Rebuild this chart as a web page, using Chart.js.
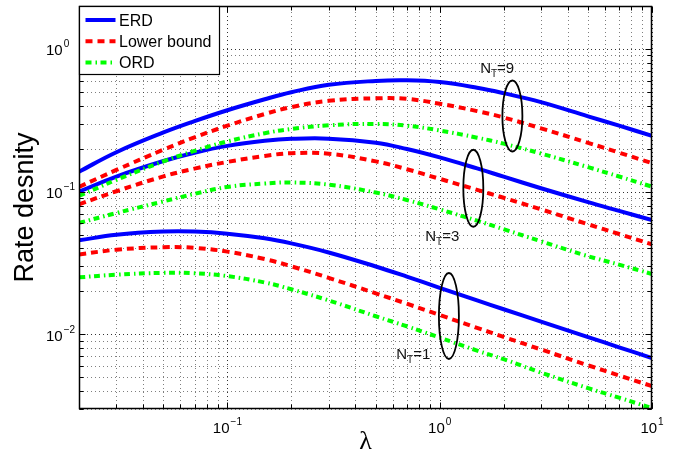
<!DOCTYPE html>
<html>
<head>
<meta charset="utf-8">
<script src="https://cdn.jsdelivr.net/npm/chart.js@4/dist/chart.umd.min.js"></script>
<style>
  html, body { margin: 0; padding: 0; background: #fff; }
  #c { display: block; }
</style>
</head>
<body>
<canvas id="c" width="680" height="457"></canvas>
<script>
// lambda sample points shared by every curve
const lambda = [0.02, 0.03, 0.05, 0.07, 0.1, 0.15, 0.2, 0.3, 0.5, 0.7, 1, 1.5, 2, 3, 5, 7, 10];

// rate density, N_T = 9
const erdNT9 = [0.138, 0.189, 0.260, 0.312, 0.372, 0.444, 0.497, 0.561, 0.597, 0.603, 0.586, 0.535, 0.490, 0.424, 0.337, 0.290, 0.246];
const lowerNT9 = [0.108, 0.142, 0.197, 0.240, 0.290, 0.350, 0.391, 0.433, 0.451, 0.447, 0.413, 0.367, 0.331, 0.278, 0.220, 0.1876, 0.1585];
const ordNT9 = [0.0933, 0.121, 0.163, 0.193, 0.225, 0.257, 0.275, 0.292, 0.2985, 0.290, 0.2685, 0.239, 0.217, 0.185, 0.1485, 0.1277, 0.1084];

// rate density, N_T = 3
const erdNT3 = [0.100, 0.1276, 0.164, 0.1875, 0.2094, 0.227, 0.2344, 0.2353, 0.2203, 0.199, 0.1738, 0.1455, 0.1274, 0.1057, 0.0844, 0.0733, 0.0632];
const lowerNT3 = [0.0815, 0.1007, 0.128, 0.145, 0.1616, 0.178, 0.186, 0.1845, 0.163, 0.1437, 0.123, 0.103, 0.0906, 0.0752, 0.0591, 0.0505, 0.0427];
const ordNT3 = [0.0604, 0.0708, 0.0855, 0.0965, 0.108, 0.114, 0.116, 0.112, 0.0986, 0.0874, 0.0752, 0.0626, 0.0546, 0.0449, 0.0353, 0.0308, 0.0265];

// rate density, N_T = 1
const erdNT1 = [0.0456, 0.0499, 0.0525, 0.0525, 0.0508, 0.0471, 0.0434, 0.0375, 0.0299, 0.0254, 0.0212, 0.0173, 0.0150, 0.0123, 0.00958, 0.00812, 0.00682];
const lowerNT1 = [0.0363, 0.0392, 0.0408, 0.0404, 0.0380, 0.0337, 0.0300, 0.0249, 0.0194, 0.0164, 0.01367, 0.01111, 0.0096, 0.00784, 0.00607, 0.00515, 0.00434];
const ordNT1 = [0.0251, 0.0262, 0.0270, 0.0268, 0.0256, 0.0231, 0.0207, 0.0173, 0.0134, 0.0114, 0.0095, 0.0077, 0.0067, 0.0054, 0.0042, 0.0036, 0.00304];

const seriesNames = ['ERD', 'Lower bound', 'ORD'];
const xRange = [0.02, 10];
const yRange = [0.003, 2];

// N_T groups: label text, label anchor (lambda, rate), ellipse centre (lambda, rate)
const groupLabels = ['9', '3', '1'];
const labelAnchorX = [1.551, 0.855, 0.624];
const labelAnchorY = [0.679, 0.0449, 0.00668];
const ellipseX = [2.2, 1.44, 1.105];
const ellipseY = [0.339, 0.1057, 0.01345];

const styles = [
  { color: '#0000ff', dash: [] },
  { color: '#ff0000', dash: [7, 5] },
  { color: '#00ff00', dash: [6, 4, 1.5, 3.5] }
];
const ellipseRadii = [[10, 35.5], [10, 38.5], [10, 43]];

const groups = [
  [erdNT9, lowerNT9, ordNT9],
  [erdNT3, lowerNT3, ordNT3],
  [erdNT1, lowerNT1, ordNT1]
];

const datasets = [];
groups.forEach((g) => {
  g.forEach((vals, si) => {
    datasets.push({
      label: seriesNames[si],
      data: lambda.map((x, i) => ({ x: x, y: vals[i] })),
      borderColor: styles[si].color,
      borderDash: styles[si].dash,
      borderWidth: 4,
      borderCapStyle: 'butt',
      pointRadius: 0,
      fill: false,
      tension: 0.4,
      clip: 0
    });
  });
});

const FONT = '"Liberation Sans", Arial, Helvetica, sans-serif';

function decadeValues(min, max) {
  const out = [];
  const e0 = Math.floor(Math.log10(min)) - 1;
  const e1 = Math.ceil(Math.log10(max)) + 1;
  for (let e = e0; e <= e1; e++) {
    for (let m = 1; m <= 9; m++) {
      const v = +(m * Math.pow(10, e)).toPrecision(6);
      if (v >= min * 0.9999 && v <= max * 1.0001) out.push({ v: v, major: m === 1, e: e });
    }
  }
  return out;
}

function drawPow(ctx, exp, x, y, align) {
  const base = '10', sup = String(exp).replace('-', '\u2212');
  ctx.font = '15px ' + FONT;
  const wb = ctx.measureText(base).width;
  ctx.font = '10px ' + FONT;
  const ws = ctx.measureText(sup).width;
  const left = align === 'center' ? x - (wb + ws + 1) / 2 : x;
  ctx.textAlign = 'left';
  ctx.textBaseline = 'alphabetic';
  ctx.font = '15px ' + FONT;
  ctx.fillText(base, left, y);
  ctx.font = '10px ' + FONT;
  ctx.fillText(sup, left + wb + 1, y - 8);
}

const axesPlugin = {
  id: 'axesFrame',
  beforeDatasetsDraw(chart) {
    const { ctx, chartArea: a, scales: { x, y } } = chart;
    ctx.save();
    ctx.lineWidth = 1;
    ctx.setLineDash([1, 3]);
    decadeValues(x.min, x.max).forEach(t => {
      const px = Math.round(x.getPixelForValue(t.v)) + 0.5;
      ctx.strokeStyle = t.major ? 'rgba(0,0,0,0.8)' : 'rgba(0,0,0,0.5)';
      ctx.beginPath(); ctx.moveTo(px, a.bottom); ctx.lineTo(px, a.top); ctx.stroke();
    });
    decadeValues(y.min, y.max).forEach(t => {
      const py = Math.round(y.getPixelForValue(t.v)) + 0.5;
      ctx.strokeStyle = t.major ? 'rgba(0,0,0,0.8)' : 'rgba(0,0,0,0.5)';
      ctx.beginPath(); ctx.moveTo(a.left, py); ctx.lineTo(a.right, py); ctx.stroke();
    });
    ctx.restore();
  },
  afterDatasetsDraw(chart) {
    const { ctx, chartArea: a, scales: { x, y } } = chart;
    ctx.save();
    ctx.setLineDash([]);
    ctx.fillStyle = '#000';
    ctx.strokeStyle = '#000';

    // N_T ellipses and labels
    ctx.lineWidth = 1.8;
    groupLabels.forEach((g, i) => {
      const cx = x.getPixelForValue(ellipseX[i]);
      const cy = y.getPixelForValue(ellipseY[i]);
      ctx.beginPath();
      ctx.ellipse(cx, cy, ellipseRadii[i][0], ellipseRadii[i][1], 0, 0, Math.PI * 2);
      ctx.stroke();
      const lx = x.getPixelForValue(labelAnchorX[i]);
      const ly = y.getPixelForValue(labelAnchorY[i]);
      ctx.textAlign = 'left';
      ctx.textBaseline = 'alphabetic';
      ctx.fillStyle = '#111';
      ctx.font = '15px ' + FONT;
      ctx.fillText('N', lx, ly);
      const wn = ctx.measureText('N').width;
      ctx.font = '10px ' + FONT;
      ctx.fillText('T', lx + wn, ly + 4);
      const wt = ctx.measureText('T').width;
      ctx.font = '15px ' + FONT;
      ctx.fillText('=' + g, lx + wn + wt, ly);
    });

    // box and ticks on all four sides
    ctx.fillStyle = '#000';
    ctx.lineWidth = 1;
    const L = Math.round(a.left) + 0.5, R = Math.round(a.right) - 0.5;
    const T = Math.round(a.top) + 0.5, B = Math.round(a.bottom) - 0.5;
    decadeValues(x.min, x.max).forEach(t => {
      const px = Math.round(x.getPixelForValue(t.v)) + 0.5;
      const len = t.major ? 6 : 4;
      ctx.beginPath();
      ctx.moveTo(px, B); ctx.lineTo(px, B - len);
      ctx.moveTo(px, T); ctx.lineTo(px, T + len);
      ctx.stroke();
    });
    decadeValues(y.min, y.max).forEach(t => {
      const py = Math.round(y.getPixelForValue(t.v)) + 0.5;
      const len = t.major ? 6 : 4;
      ctx.beginPath();
      ctx.moveTo(L, py); ctx.lineTo(L + len, py);
      ctx.moveTo(R, py); ctx.lineTo(R - len, py);
      ctx.stroke();
    });
    ctx.lineWidth = 1.5;
    ctx.strokeRect(L, T, R - L, B - T);

    // tick labels
    decadeValues(x.min, x.max).filter(t => t.major).forEach(t => {
      drawPow(ctx, t.e, x.getPixelForValue(t.v), a.bottom + 24, 'center');
    });
    decadeValues(y.min, y.max).filter(t => t.major).forEach(t => {
      drawPow(ctx, t.e, a.left - 33, y.getPixelForValue(t.v) + 6.5, 'left');
    });

    // axis titles
    ctx.font = '26px "Liberation Serif", "DejaVu Serif", serif';
    ctx.textAlign = 'center';
    ctx.textBaseline = 'alphabetic';
    ctx.fillText('\u03BB', (a.left + a.right) / 2, a.bottom + 40);
    ctx.save();
    ctx.translate(a.left - 46, (a.top + a.bottom) / 2);
    ctx.rotate(-Math.PI / 2);
    ctx.font = '27px ' + FONT;
    ctx.fillText('Rate desnity', 0, 0);
    ctx.restore();

    // legend
    const lx = Math.round(a.left) + 0.5, ly = Math.round(a.top) + 0.5;
    const lw = 140, lh = 68;
    ctx.fillStyle = '#fff';
    ctx.fillRect(lx, ly, lw, lh);
    ctx.lineWidth = 1.2;
    ctx.strokeStyle = '#000';
    ctx.strokeRect(lx, ly, lw, lh);
    seriesNames.forEach((name, i) => {
      const ds = chart.data.datasets[i];
      const yy = ly + 13.5 + i * 21.3;
      ctx.save();
      ctx.strokeStyle = ds.borderColor;
      ctx.lineWidth = ds.borderWidth;
      ctx.setLineDash(ds.borderDash);
      ctx.lineCap = 'butt';
      ctx.beginPath();
      ctx.moveTo(lx + 6, yy); ctx.lineTo(lx + 36, yy);
      ctx.stroke();
      ctx.restore();
      ctx.fillStyle = '#000';
      ctx.font = '16px ' + FONT;
      ctx.textAlign = 'left';
      ctx.textBaseline = 'alphabetic';
      ctx.fillText(name, lx + 39.5, yy + 5.7);
    });
    ctx.restore();
  }
};

new Chart(document.getElementById('c'), {
  type: 'line',
  data: { datasets: datasets },
  options: {
    responsive: false,
    animation: false,
    devicePixelRatio: 1,
    layout: { padding: { left: 79, top: 6, right: 28, bottom: 48 } },
    plugins: { legend: { display: false }, tooltip: { enabled: false } },
    scales: {
      x: { type: 'logarithmic', min: xRange[0], max: xRange[1], display: false },
      y: { type: 'logarithmic', min: yRange[0], max: yRange[1], display: false }
    }
  },
  plugins: [axesPlugin]
});
</script>
</body>
</html>
